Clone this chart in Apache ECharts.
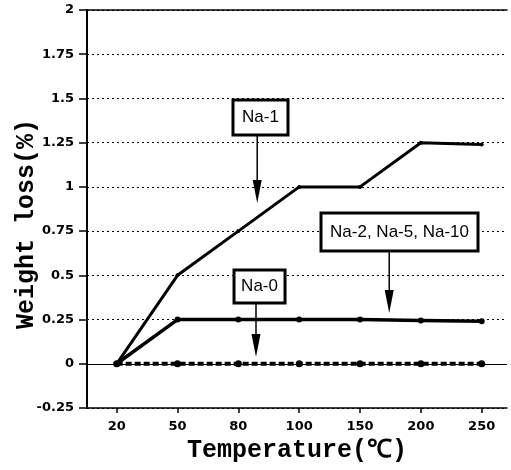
<!DOCTYPE html>
<html>
<head>
<meta charset="utf-8">
<script src="https://cdn.jsdelivr.net/npm/echarts@6/dist/echarts.min.js"></script>
<style>
html,body{margin:0;padding:0;background:#fff;}
#c{width:511px;height:470px;}
</style>
</head>
<body>
<div id="c"></div>
<script>
// ---- data ----
const categories = ['20', '50', '80', '100', '150', '200', '250'];
const na1 = [0, 0.5, 0.75, 1.0, 1.0, 1.25, 1.24];
const na2510 = [0, 0.25, 0.25, 0.25, 0.25, 0.245, 0.24];
const na0 = [0, 0, 0, 0, 0, 0, 0];
const annotationTexts = ['Na-1', 'Na-2, Na-5, Na-10', 'Na-0'];

// ---- layout (positions in axis coordinates) ----
const annotations = [
  { text: annotationTexts[0], box: [2.364, 1.392], w: 55, h: 35, tip: [2.31, 0.909] },
  { text: annotationTexts[1], box: [4.649, 0.745], w: 157, h: 38, tip: [4.48, 0.287] },
  { text: annotationTexts[2], box: [2.348, 0.437], w: 51, h: 33, tip: [2.29, 0.038] }
];

const idx = categories.map((c, i) => i);
const toPairs = arr => arr.map((v, i) => [i, v]);

const chart = echarts.init(document.getElementById('c'), null, { renderer: 'canvas' });
const labelFont = { fontFamily: 'DejaVu Sans', fontWeight: 'bold', fontSize: 13, color: '#000' };
const option = {
  backgroundColor: '#fff',
  animation: false,
  grid: { left: 87, right: 4, top: 10, bottom: 62, containLabel: false, outerBoundsMode: 'none' },
  xAxis: [{
    type: 'value',
    min: -0.488, max: 6.416,
    axisLine: { show: true, onZero: false, lineStyle: { color: '#000', width: 1.5 } },
    axisTick: { show: true, length: 5, customValues: idx, lineStyle: { color: '#000', width: 1.5 } },
    axisLabel: Object.assign({ customValues: idx, margin: 12, formatter: v => categories[Math.round(v)] }, labelFont),
    splitLine: { show: false },
    name: 'Temperature(℃)',
    nameLocation: 'middle',
    nameGap: 30,
    nameMoveOverlap: false,
    nameTextStyle: { fontFamily: 'Liberation Mono', fontWeight: 'bold', fontSize: 25, color: '#000' }
  }, {
    type: 'value',
    position: 'top',
    min: -0.488, max: 6.416,
    axisLine: { show: true, onZero: false, lineStyle: { color: '#000', width: 1.5 } },
    axisTick: { show: false },
    axisLabel: { show: false },
    splitLine: { show: false }
  }],
  yAxis: {
    type: 'value',
    min: -0.25, max: 2, interval: 0.25,
    axisLine: { show: true, onZero: false, lineStyle: { color: '#000', width: 2 } },
    axisTick: { show: true, length: 8, lineStyle: { color: '#000', width: 1.5 } },
    axisLabel: Object.assign({ margin: 13 }, labelFont),
    splitLine: { show: true, lineStyle: { color: '#000', width: 1, type: [2, 3] } },
    name: 'Weight loss(%)',
    nameLocation: 'middle',
    nameGap: 48,
    nameMoveOverlap: false,
    nameTextStyle: { fontFamily: 'Liberation Mono', fontWeight: 'bold', fontSize: 25, color: '#000', padding: [0, 30, 0, 0] }
  },
  series: [
    {
      name: 'Na-0', type: 'line', data: toPairs(na0),
      symbol: 'circle', symbolSize: 7, itemStyle: { color: '#000' },
      lineStyle: { color: '#000', width: 4, type: [6, 3] },
      markLine: {
        silent: true, symbol: ['none', 'none'], label: { show: false },
        lineStyle: { color: '#000', width: 1, type: 'solid' },
        data: [{ yAxis: 0 }]
      },
      z: 3
    },
    {
      name: 'Na-2, Na-5, Na-10', type: 'line', data: toPairs(na2510),
      symbol: 'circle', symbolSize: 6, itemStyle: { color: '#000' },
      lineStyle: { color: '#000', width: 3.5 }, z: 4
    },
    {
      name: 'Na-1', type: 'line', data: toPairs(na1),
      symbol: 'circle', symbolSize: 4, itemStyle: { color: '#000' },
      lineStyle: { color: '#000', width: 3 }, z: 4
    }
  ]
};
chart.setOption(option);

const finder = { xAxisIndex: 0, yAxisIndex: 0 };
const g = [];
annotations.forEach(a => {
  const c = chart.convertToPixel(finder, a.box);
  const t = chart.convertToPixel(finder, a.tip);
  const top = c[1] - a.h / 2, bottom = c[1] + a.h / 2;
  g.push({ type: 'line', shape: { x1: t[0], y1: bottom, x2: t[0], y2: t[1] - 20 }, style: { stroke: '#000', lineWidth: 1.5 }, z: 100 });
  g.push({ type: 'polygon', shape: { points: [[t[0] - 4.5, t[1] - 23], [t[0] + 4.5, t[1] - 23], [t[0], t[1]]] }, style: { fill: '#000' }, z: 100 });
  g.push({ type: 'rect', shape: { x: c[0] - a.w / 2, y: top, width: a.w, height: a.h }, style: { fill: '#fff', stroke: '#000', lineWidth: 3 }, z: 100 });
  g.push({ type: 'text', x: c[0], y: c[1], style: { text: a.text, fill: '#000', font: '17px "Liberation Sans"', textAlign: 'center', textVerticalAlign: 'middle', align: 'center', verticalAlign: 'middle' }, z: 101 });
});
chart.setOption({ graphic: g });
</script>
</body>
</html>
